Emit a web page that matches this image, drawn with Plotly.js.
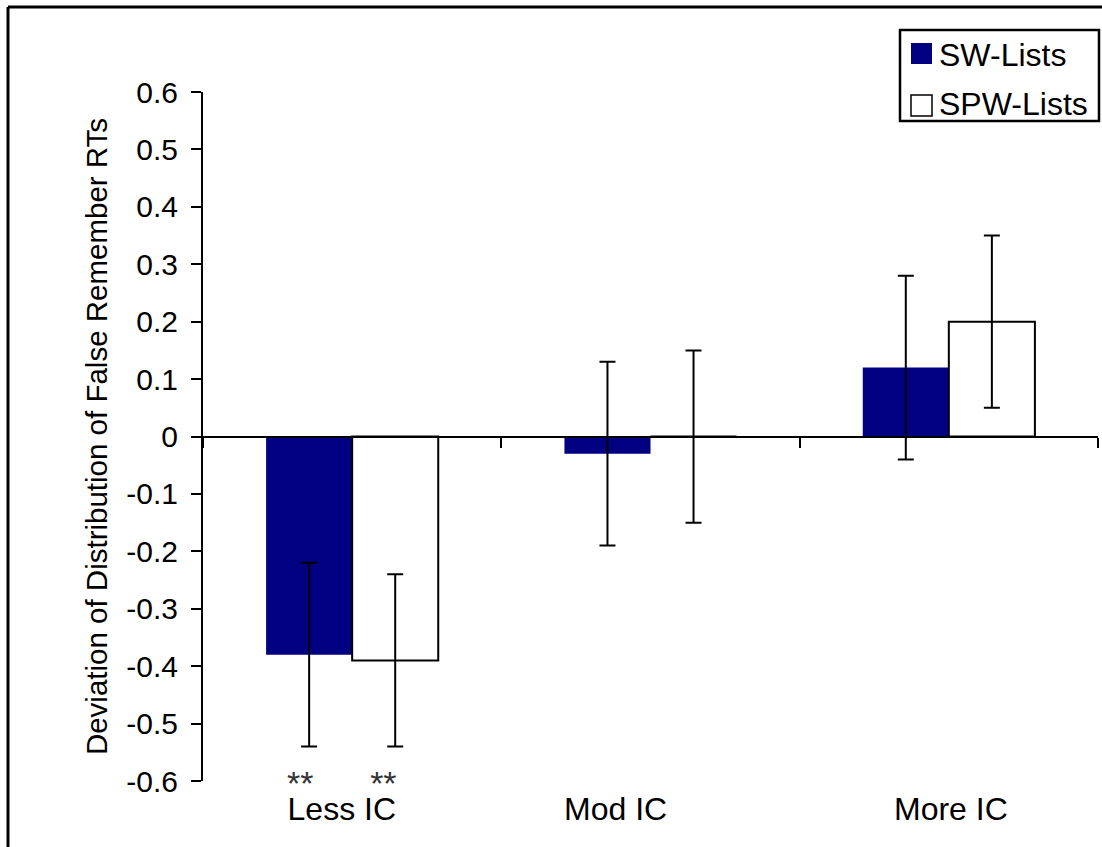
<!DOCTYPE html>
<html>
<head>
<meta charset="utf-8">
<script src="https://cdn.plot.ly/plotly-3.0.1.min.js"></script>
<style>
  html, body { margin: 0; padding: 0; background: #fff; }
  #chart { width: 1102px; height: 847px; }
</style>
</head>
<body>
<div id="chart"></div>
<script>
// Condition categories (level of item congruency)
const categories = ['Less IC', 'Mod IC', 'More IC'];

// Series names
const seriesNames = ['SW-Lists', 'SPW-Lists'];

// Mean deviation of false "remember" RT distributions
const swValues  = [-0.38, -0.03, 0.12];
const spwValues = [-0.39,  0.00, 0.20];

// Error bar half-lengths
const swErrors  = [0.16, 0.16, 0.16];
const spwErrors = [0.15, 0.15, 0.15];

// Significance markers under each bar
const swSig  = ['**', '', ''];
const spwSig = ['**', '', ''];

// Y axis ticks
const yTickVals = [-0.6, -0.5, -0.4, -0.3, -0.2, -0.1, 0, 0.1, 0.2, 0.3, 0.4, 0.5, 0.6];
const yTickText = ['-0.6', '-0.5', '-0.4', '-0.3', '-0.2', '-0.1', '0', '0.1', '0.2', '0.3', '0.4', '0.5', '0.6'];

const yTitle = 'Deviation of Distribution of False Remember RTs';

// ---- layout geometry (pixels) ----
const W = 1102, H = 847;
const M = { l: 203, r: 4, t: 92, b: 66 };
const plotW = W - M.l - M.r;
const plotH = H - M.t - M.b;
const px = x => (x - M.l) / plotW;          // pixel x -> paper x
const py = y => (H - M.b - y) / plotH;      // pixel y -> paper y

const FONT = 'Liberation Sans, Arial, Helvetica, sans-serif';
const NAVY = '#000080';
const NBSP = '\u00A0';

const errStyle = { type: 'data', visible: true, color: '#000', thickness: 2, width: 8 };

const traces = [
  {
    type: 'bar', name: seriesNames[0], x: categories, y: swValues,
    marker: { color: NAVY, line: { width: 0 } },
    error_y: Object.assign({ array: swErrors }, errStyle),
    showlegend: false, hoverinfo: 'x+y'
  },
  {
    type: 'bar', name: seriesNames[1], x: categories, y: spwValues,
    marker: { color: '#ffffff', line: { color: '#000', width: 2 } },
    error_y: Object.assign({ array: spwErrors }, errStyle),
    showlegend: false, hoverinfo: 'x+y'
  }
];

// Category labels; the significance stars sit on a line just above the label
// (line pitch is 1.3 x the base font size, so a small base size keeps them close)
const labelShift = [-10, -35, 2];
const annotations = [];
categories.forEach((c, i) => {
  const label = `<span style="font-size:32px">${c}</span>`;
  let text = label;
  if (swSig[i] || spwSig[i]) {
    const left = swSig[i] || NBSP.repeat(2);
    const right = spwSig[i] || NBSP.repeat(2);
    const stars = `<span style="font-size:34px;color:#333">${left}${NBSP.repeat(6)}${right}</span>`;
    text = stars + '<br>' + label;
  }
  annotations.push({
    x: c, xref: 'x', y: py(829), yref: 'paper',
    text: text, showarrow: false, xshift: labelShift[i],
    xanchor: 'center', yanchor: 'bottom', align: 'center',
    font: { family: FONT, size: 19.2, color: '#000' }
  });
});

// Legend entries
const legendRows = [
  { name: seriesNames[0], fill: NAVY, line: NAVY, top: 43, textY: 55 },
  { name: seriesNames[1], fill: '#ffffff', line: '#000', top: 95, textY: 104 }
];

const shapes = [
  // outer frame (left and top edges)
  { type: 'line', xref: 'paper', yref: 'paper', x0: px(8), y0: py(7), x1: px(8), y1: py(900),
    line: { color: '#000', width: 3 } },
  { type: 'line', xref: 'paper', yref: 'paper', x0: px(8), y0: py(7), x1: px(1200), y1: py(7),
    line: { color: '#000', width: 3 } },
  // legend box
  { type: 'rect', xref: 'paper', yref: 'paper', x0: px(900), y0: py(30), x1: px(1099), y1: py(121),
    line: { color: '#000', width: 2.5 }, fillcolor: '#fff' }
];

legendRows.forEach(r => {
  shapes.push({
    type: 'rect', xref: 'paper', yref: 'paper',
    x0: px(911), x1: px(932), y0: py(r.top), y1: py(r.top + 21),
    line: { color: r.line, width: r.line === NAVY ? 0 : 1.5 }, fillcolor: r.fill
  });
  annotations.push({
    x: px(937), xref: 'paper', y: py(r.textY), yref: 'paper',
    text: r.name, showarrow: false, xanchor: 'left', yanchor: 'middle',
    font: { family: FONT, size: 32, color: '#000' }
  });
});

const layout = {
  width: W, height: H,
  margin: M,
  paper_bgcolor: '#fff', plot_bgcolor: '#fff',
  font: { family: FONT, size: 30, color: '#000' },
  barmode: 'group', bargap: 0.423, bargroupgap: 0,
  showlegend: false,
  xaxis: {
    type: 'category', range: [-0.5, 2.5], fixedrange: true,
    anchor: 'free', position: py(437),
    showline: true, linecolor: '#000', linewidth: 2,
    ticks: 'outside', tickson: 'boundaries', ticklen: 10, tickwidth: 2, tickcolor: '#000',
    showticklabels: false, showgrid: false, zeroline: false
  },
  yaxis: {
    range: [-0.6, 0.6], fixedrange: true,
    tickmode: 'array', tickvals: yTickVals, ticktext: yTickText,
    showline: true, linecolor: '#000', linewidth: 2,
    ticks: 'outside', ticklen: 10, tickwidth: 2, tickcolor: '#000',
    ticklabelstandoff: 7,
    tickfont: { family: FONT, size: 30, color: '#000' },
    showgrid: false, zeroline: false,
    title: { text: yTitle, standoff: 10, font: { family: FONT, size: 29.5, color: '#000' } },
    automargin: false
  },
  shapes: shapes,
  annotations: annotations
};

Plotly.newPlot('chart', traces, layout, { displayModeBar: false, staticPlot: true });
</script>
</body>
</html>
